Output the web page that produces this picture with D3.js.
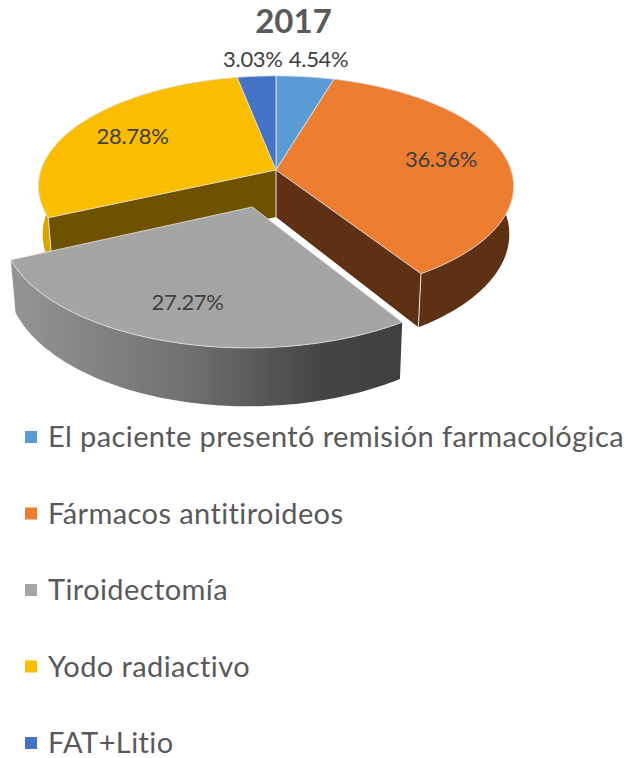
<!DOCTYPE html>
<html>
<head>
<meta charset="utf-8">
<script src="https://cdn.jsdelivr.net/npm/d3@7"></script>
<style>
  html, body { margin: 0; padding: 0; background: #fff; }
  svg { display: block; }
  text { font-family: Lato, "Open Sans", sans-serif; }
</style>
</head>
<body>
<div class="canvas"></div>
<script>
const title = "2017";
const categories = [
  "El paciente presentó remisión farmacológica",
  "Fármacos antitiroideos",
  "Tiroidectomía",
  "Yodo radiactivo",
  "FAT+Litio",
];
const values = [4.54, 36.36, 27.27, 28.78, 3.03];
const colors = ["#5b9bd5", "#ed7d31", "#a5a5a5", "#fbbd00", "#4472c4"];
const sideColors = [null, "#5e3014", null, "#6f5200", null];
const rimColors = [null, "#5e3014", null, "#dba500", null];

const width = 628;
const height = 758;
const cx = 276;
const cy = 170;
const radiusX = 235;
const radiusY = 108;
const persp = 0.147;
const depth = 47;
const depthShrink = 0.982;
const explodeIndex = 2;
const explodeBy = 0.34;
const labelRadius = [1.22, 0.72, 0.74, 0.72, 1.22];
const labelNudge = [8, 0, -4, 0, 0];

const svg = d3
  .select(".canvas")
  .append("svg")
  .attr("width", width)
  .attr("height", height);

const defs = svg.append("defs");
const rimGrad = defs
  .append("linearGradient")
  .attr("id", "grey-rim")
  .attr("gradientUnits", "userSpaceOnUse")
  .attr("x1", 14)
  .attr("x2", 400)
  .attr("y1", 0)
  .attr("y2", 0);
rimGrad.append("stop").attr("offset", "0").attr("stop-color", "#949494");
rimGrad.append("stop").attr("offset", "0.45").attr("stop-color", "#707070");
rimGrad.append("stop").attr("offset", "0.8").attr("stop-color", "#444444");
rimGrad.append("stop").attr("offset", "1").attr("stop-color", "#404040");

// disc coordinates -> screen, nearer points get bigger
function project(u, v, lower) {
  const s = 1 / (1 - persp * v);
  const k = lower ? depthShrink : 1;
  return [
    cx + radiusX * u * s * k,
    cy + radiusY * v * s + (lower ? depth * s : 0),
  ];
}

const arcs = d3.pie().sort(null).value((d) => d)(values);
const line = d3.line();

function offsetOf(i) {
  if (i !== explodeIndex) return [0, 0];
  const mid = (arcs[i].startAngle + arcs[i].endAngle) / 2;
  return [Math.sin(mid) * explodeBy, -Math.cos(mid) * explodeBy];
}

function rimPoints(i, lower) {
  const [du, dv] = offsetOf(i);
  const a = arcs[i];
  const n = Math.ceil((a.endAngle - a.startAngle) * 60);
  return d3
    .range(n + 1)
    .map((j) => a.startAngle + ((a.endAngle - a.startAngle) * j) / n)
    .map((t) => project(Math.sin(t) + du, -Math.cos(t) + dv, lower));
}

function apex(i, lower) {
  const [du, dv] = offsetOf(i);
  return project(du, dv, lower);
}

function topPath(i) {
  return line([apex(i, false), ...rimPoints(i, false)]) + "Z";
}

function rimPath(i) {
  return (
    line([...rimPoints(i, false), ...rimPoints(i, true).reverse()]) + "Z"
  );
}

// orange shows the cut at its end, yellow the cut at its start
function cornerOf(i, lower) {
  const pts = rimPoints(i, lower);
  return i === 1 ? pts[pts.length - 1] : pts[0];
}

function cutPath(i) {
  return (
    line([
      apex(i, false),
      cornerOf(i, false),
      cornerOf(i, true),
      apex(i, true),
    ]) + "Z"
  );
}

const pie = svg.append("g").attr("id", "pie");
const edge = "#e4e4e4";

// back to front: yellow, orange, the flat tops, then the pulled out slice
[3, 1].forEach((i) => {
  pie.append("path").attr("d", rimPath(i)).attr("fill", rimColors[i]);
  pie.append("path").attr("d", cutPath(i)).attr("fill", sideColors[i]);
  pie
    .append("path")
    .attr("d", line([cornerOf(i, false), cornerOf(i, true)]))
    .attr("stroke", edge)
    .attr("stroke-width", 1)
    .attr("fill", "none");
});

pie
  .append("path")
  .attr("d", line([apex(1, false), apex(1, true)]))
  .attr("stroke", edge)
  .attr("stroke-width", 1);

[0, 1, 3, 4].forEach((i) => {
  pie
    .append("path")
    .attr("d", topPath(i))
    .attr("fill", colors[i])
    .attr("stroke", edge)
    .attr("stroke-width", 0.8)
    .attr("stroke-linejoin", "round");
});

pie.append("path").attr("d", rimPath(explodeIndex)).attr("fill", "url(#grey-rim)");
pie
  .append("path")
  .attr("d", topPath(explodeIndex))
  .attr("fill", colors[explodeIndex])
  .attr("stroke", edge)
  .attr("stroke-width", 0.8)
  .attr("stroke-linejoin", "round");

function labelPos(i) {
  const a = arcs[i];
  const mid = (a.startAngle + a.endAngle) / 2;
  const [du, dv] = offsetOf(i);
  const r = labelRadius[i];
  return project(Math.sin(mid) * r + du, -Math.cos(mid) * r + dv, false);
}

// data labels
svg
  .append("g")
  .attr("id", "labels")
  .selectAll("text")
  .data(values)
  .enter()
  .append("text")
  .attr("text-anchor", "middle")
  .attr("font-size", 22)
  .attr("fill", "#404040")
  .attr("letter-spacing", "-0.3")
  .attr("x", (d, i) => labelPos(i)[0] + labelNudge[i])
  .attr("y", (d, i) => labelPos(i)[1] + 8)
  .text((d) => d.toFixed(2) + "%");

svg
  .append("text")
  .attr("x", 293.5)
  .attr("y", 33)
  .attr("text-anchor", "middle")
  .attr("font-size", 33)
  .attr("font-weight", 700)
  .attr("fill", "#595959")
  .text(title);

// legend
const legendY = d3.scalePoint().domain(categories).range([437, 743]);

const legend = svg
  .append("g")
  .attr("id", "legend")
  .selectAll("g")
  .data(categories)
  .enter()
  .append("g")
  .attr("transform", (d) => `translate(25, ${legendY(d)})`);

legend
  .append("rect")
  .attr("y", -6)
  .attr("width", 12)
  .attr("height", 12)
  .attr("fill", (d, i) => colors[i]);

legend
  .append("text")
  .attr("x", 23)
  .attr("y", 10)
  .attr("font-size", 29)
  .attr("letter-spacing", "0.4")
  .attr("fill", "#595959")
  .text((d) => d);
</script>
</body>
</html>
